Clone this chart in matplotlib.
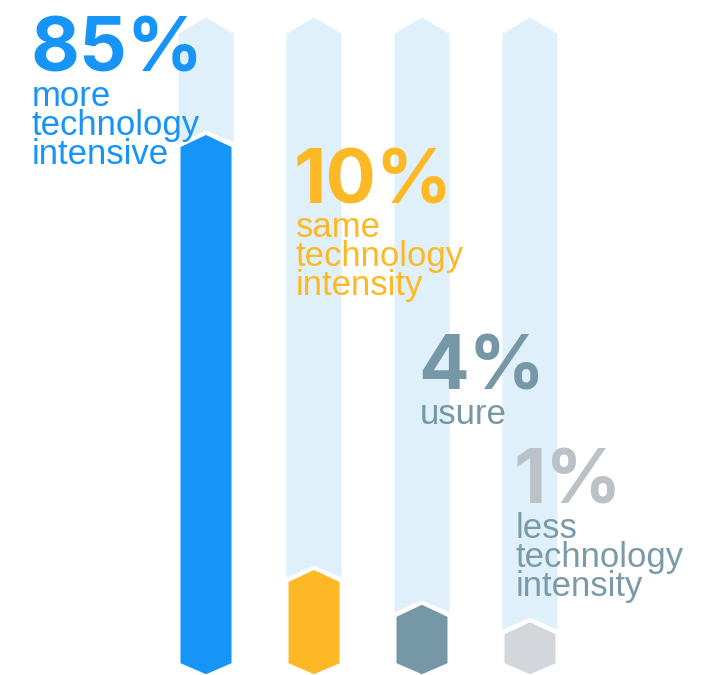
import matplotlib.pyplot as plt
from matplotlib.patches import Polygon

plt.rcParams['font.family'] = ['Liberation Sans', 'DejaVu Sans']

# survey results
values = [85, 10, 4, 1]
labels = [
    ['more', 'technology', 'intensive'],
    ['same', 'technology', 'intensity'],
    ['usure'],
    ['less', 'technology', 'intensity'],
]
bar_colors = ['#1794f8', '#fdb925', '#7597a6', '#d3d7db']
value_colors = ['#1794f8', '#fdb925', '#7597a6', '#bac1c7']
label_colors = ['#1794f8', '#fdb925', '#7597a6', '#7b9aa9']

TRACK_COLOR = '#dff0fa'
BASE = -4.0        # bars start a little below zero
TRACK_TOP = 104.5

W, H = 722, 675
PX_X = 108.0       # pixels per category step
PX_Y = 5.8         # pixels per percentage point
X0, Y0 = 206.0, 640.0


def hexbar(ax, x, y0, y1, width_px, cap_top_px, cap_bot_px, **kw):
    w = width_px / PX_X / 2
    ct = cap_top_px / PX_Y
    cb = cap_bot_px / PX_Y
    pts = [(x - w, y0), (x, y0 - cb), (x + w, y0),
           (x + w, y1), (x, y1 + ct), (x - w, y1)]
    p = Polygon(pts, closed=True, **kw)
    ax.add_patch(p)
    return p


def ptext(x, y, s, **kw):
    # x, y in pixels from the top-left corner, y is the text baseline
    plt.figtext(x / W, 1 - y / H, s, va='baseline', ha='left', **kw)


fig = plt.figure(figsize=(W / 100, H / 100), dpi=100)
ax = fig.add_axes([0, 0, 1, 1])
ax.set_xlim(-X0 / PX_X, (W - X0) / PX_X)
ax.set_ylim(-(H - Y0) / PX_Y, Y0 / PX_Y)
ax.axis('off')

for i, v in enumerate(values):
    # light background track
    hexbar(ax, i, BASE, TRACK_TOP, 55, 16.5, 11, facecolor=TRACK_COLOR,
           edgecolor='none', zorder=1)
    # white gap around the filled bar
    hexbar(ax, i, BASE, v + 4.5 / PX_Y, 55, 12, 11, facecolor='white',
           edgecolor='none', zorder=2)
    hexbar(ax, i, BASE, v, 51, 12, 11, facecolor=bar_colors[i],
           edgecolor='none', zorder=3)

# big percentages with their descriptions
text_pos = [(30, 72), (294, 203), (418, 390), (514, 504)]
for i, v in enumerate(values):
    x, y = text_pos[i]
    ptext(x, y, f'{v}%', fontsize=54, fontweight='bold', color=value_colors[i],
          family=['Inter', 'Liberation Sans'])
    for j, line in enumerate(labels[i]):
        ptext(x + 2, y + 34 + j * 29, line, fontsize=25, color=label_colors[i])

plt.savefig('out.png', dpi=100)
